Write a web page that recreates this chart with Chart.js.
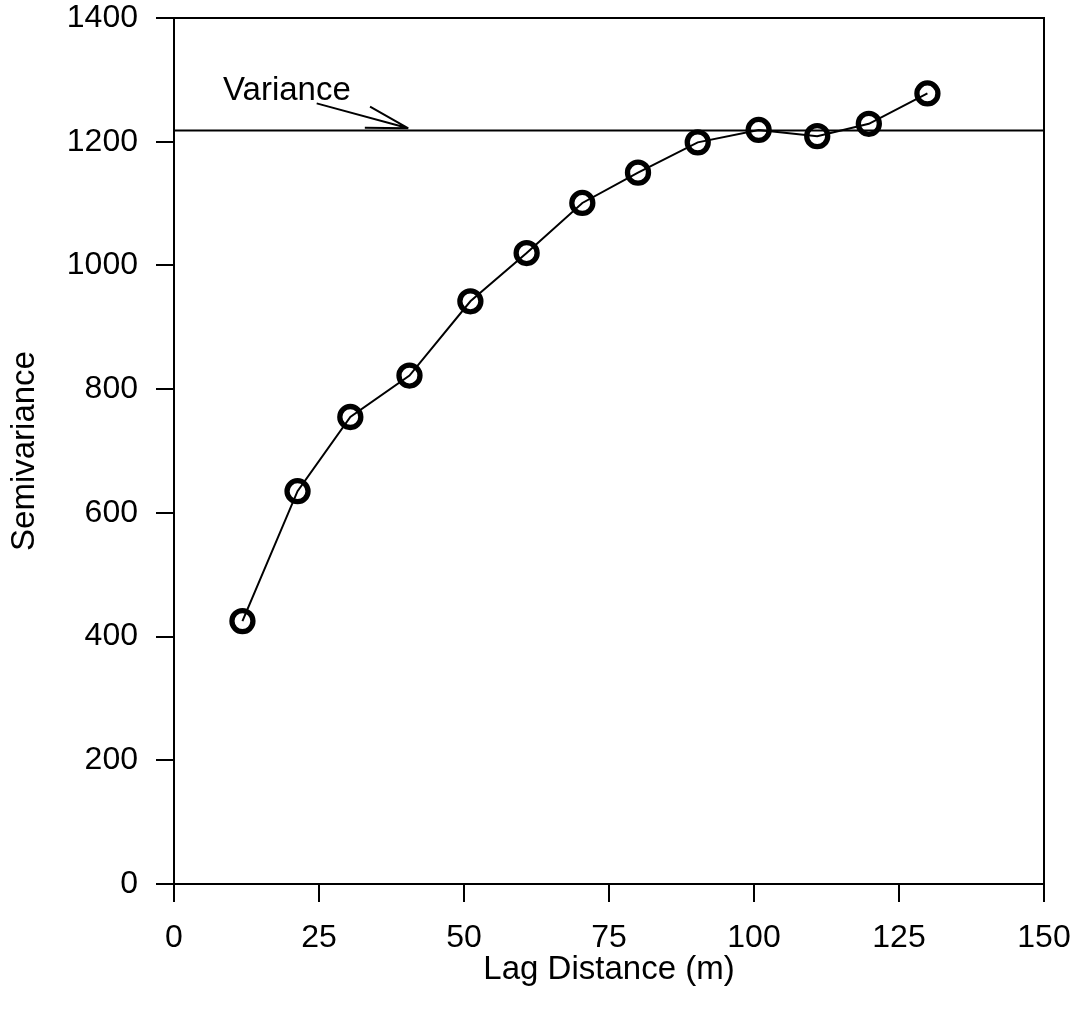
<!DOCTYPE html>
<html>
<head>
<meta charset="utf-8">
<script src="https://cdn.jsdelivr.net/npm/chart.js@4/dist/chart.umd.min.js"></script>
<style>
  html, body { margin: 0; padding: 0; background: #ffffff; }
  #wrap { position: absolute; left: 0; top: 0; width: 1079px; height: 1023px; }
</style>
</head>
<body>
<div id="wrap"><canvas id="c" width="1079" height="1023"></canvas></div>
<script>
// ---- data ----
const lagDistance = [11.8, 21.3, 30.4, 40.6, 51.1, 60.8, 70.4, 80.0, 90.3, 100.8, 110.9, 119.8, 129.9];
const semivariance = [425, 635, 755, 822, 942, 1020, 1101, 1150, 1199, 1219, 1209, 1229, 1278];
const varianceValue = 1218;
const xTickValues = [0, 25, 50, 75, 100, 125, 150];
const yTickValues = [0, 200, 400, 600, 800, 1000, 1200, 1400];
const xTitle = 'Lag Distance (m)';
const yTitle = 'Semivariance';
const varianceLabel = 'Variance';

// annotation anchor (data coordinates)
const labelAnchor = { x: 8.45, y: 1267 };
const arrowTail = { x: 24.6, y: 1262 };
const arrowHead = { x: 40.4, y: 1221.7 };
const arrowBarbA = { x: 33.8, y: 1256.6 };
const arrowBarbB = { x: 32.9, y: 1222.7 };

const FONT = '"Liberation Sans", Arial, Helvetica, sans-serif';

const points = lagDistance.map((x, i) => ({ x: x, y: semivariance[i] }));
const varianceLine = [
  { x: xTickValues[0], y: varianceValue },
  { x: xTickValues[xTickValues.length - 1], y: varianceValue }
];

const framePlugin = {
  id: 'frame',
  afterDraw(chart) {
    const ctx = chart.ctx;
    const a = chart.chartArea;
    const xs = chart.scales.x, ys = chart.scales.y;
    ctx.save();
    ctx.strokeStyle = '#000';
    ctx.lineWidth = 2;
    ctx.beginPath();
    ctx.moveTo(a.left, a.top);
    ctx.lineTo(a.right, a.top);
    ctx.lineTo(a.right, a.bottom);
    ctx.stroke();

    // annotation text
    ctx.fillStyle = '#000';
    ctx.font = '33px ' + FONT;
    ctx.textAlign = 'left';
    ctx.textBaseline = 'alphabetic';
    ctx.fillText(varianceLabel, xs.getPixelForValue(labelAnchor.x), ys.getPixelForValue(labelAnchor.y));

    // arrow
    const P = p => [xs.getPixelForValue(p.x), ys.getPixelForValue(p.y)];
    const t = P(arrowTail), h = P(arrowHead), b1 = P(arrowBarbA), b2 = P(arrowBarbB);
    ctx.lineWidth = 2;
    ctx.beginPath();
    ctx.moveTo(t[0], t[1]); ctx.lineTo(h[0], h[1]);
    ctx.moveTo(b1[0], b1[1]); ctx.lineTo(h[0], h[1]);
    ctx.moveTo(b2[0], b2[1]); ctx.lineTo(h[0], h[1]);
    ctx.stroke();
    ctx.restore();
  }
};

new Chart(document.getElementById('c'), {
  type: 'scatter',
  data: {
    datasets: [
      {
        label: 'Variance',
        data: varianceLine,
        showLine: true,
        borderColor: '#000',
        borderWidth: 2,
        pointRadius: 0,
        pointHoverRadius: 0,
        fill: false
      },
      {
        label: 'Semivariance',
        data: points,
        showLine: true,
        borderColor: '#000',
        borderWidth: 2,
        pointRadius: 10.5,
        pointHoverRadius: 10.5,
        pointBorderWidth: 5.3,
        pointBorderColor: '#000',
        pointBackgroundColor: 'rgba(0,0,0,0)',
        fill: false,
        tension: 0
      }
    ]
  },
  options: {
    responsive: false,
    animation: false,
    devicePixelRatio: 1,
    layout: { padding: 0 },
    plugins: {
      legend: { display: false },
      tooltip: { enabled: false }
    },
    scales: {
      x: {
        type: 'linear',
        min: xTickValues[0],
        max: xTickValues[xTickValues.length - 1],
        afterBuildTicks: s => { s.ticks = xTickValues.map(v => ({ value: v })); },
        afterFit: s => { s.height = 139; s.paddingLeft = 0; s.paddingRight = 35; },
        grid: { drawOnChartArea: false, drawTicks: true, tickLength: 18, color: '#000', lineWidth: 2 },
        border: { display: true, color: '#000', width: 2 },
        ticks: { color: '#000', font: { family: FONT, size: 32 }, padding: 17, maxRotation: 0, callback: v => String(v) },
        title: { display: true, text: xTitle, color: '#000', font: { family: FONT, size: 33 }, padding: { top: 0, bottom: 33 } }
      },
      y: {
        type: 'linear',
        min: yTickValues[0],
        max: yTickValues[yTickValues.length - 1],
        afterBuildTicks: s => { s.ticks = yTickValues.map(v => ({ value: v })); },
        afterFit: s => { s.width = 174; s.paddingTop = 18; s.paddingBottom = 0; },
        grid: { drawOnChartArea: false, drawTicks: true, tickLength: 18, color: '#000', lineWidth: 2 },
        border: { display: true, color: '#000', width: 2 },
        ticks: { color: '#000', font: { family: FONT, size: 32 }, padding: 18, callback: v => String(v) },
        title: { display: true, text: yTitle, color: '#000', font: { family: FONT, size: 33 }, padding: { top: 5, bottom: 0 } }
      }
    }
  },
  plugins: [framePlugin]
});
</script>
</body>
</html>
